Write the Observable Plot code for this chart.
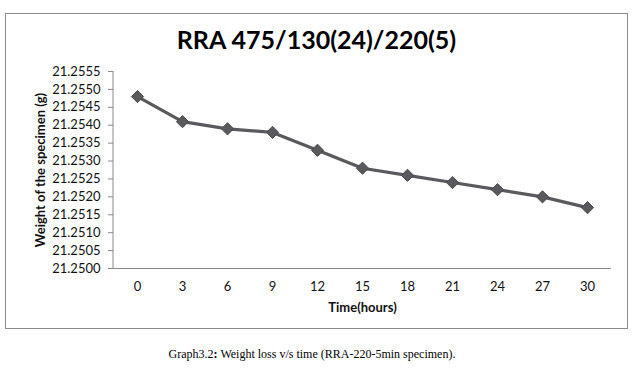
<!DOCTYPE html>
<html>
<head>
<meta charset="utf-8">
<script src="https://cdn.jsdelivr.net/npm/d3@7"></script>
<script src="https://cdn.jsdelivr.net/npm/@observablehq/plot@0.6"></script>
<style>
  html, body { margin: 0; padding: 0; background: #fff; }
  #wrap { position: relative; width: 642px; height: 375px; overflow: hidden; }
  #box { position: absolute; left: 5px; top: 13px; width: 621px; height: 314px; border: 1px solid #8a8a8a; }
  #title { position: absolute; left: 0; width: 633px; top: 24px; text-align: center; font: bold 25px Lato, "Open Sans", sans-serif; color: #000; }
  #chart { position: absolute; left: 0; top: 0; }
  #caption { position: absolute; left: 0; width: 624px; top: 347px; text-align: center; font: 12px "Liberation Serif", "DejaVu Serif", serif; color: #000; }
</style>
</head>
<body>
<div id="wrap">
  <div id="box"></div>
  <div id="title">RRA 475/130(24)/220(5)</div>
  <div id="chart"></div>
  <div id="caption">Graph3.2<b>:</b> Weight loss v/s time (RRA-220-5min specimen).</div>
</div>
<script>
const hours = [0, 3, 6, 9, 12, 15, 18, 21, 24, 27, 30];
const weights = [21.2548, 21.2541, 21.2539, 21.2538, 21.2533, 21.2528, 21.2526, 21.2524, 21.2522, 21.2520, 21.2517];
const yTicks = [21.2500, 21.2505, 21.2510, 21.2515, 21.2520, 21.2525, 21.2530, 21.2535, 21.2540, 21.2545, 21.2550, 21.2555];

const data = hours.map((h, i) => ({hour: h, weight: weights[i]}));

const chart = Plot.plot({
  width: 642,
  height: 340,
  marginLeft: 113,
  marginRight: 31,
  marginTop: 71,
  marginBottom: 72,
  style: {fontFamily: "Lato, 'Open Sans', sans-serif", fontSize: "13px", color: "#111", background: "transparent"},
  x: {type: "point", domain: hours, padding: 0.5, label: null},
  y: {domain: [21.25, 21.2555], label: null},
  marks: [
    Plot.ruleY([21.25], {stroke: "#8a8a8a"}),
    Plot.axisY({ticks: yTicks, tickFormat: d3.format(".4f"), tickSize: 5, tickPadding: 8, stroke: "#8a8a8a", fontSize: 13, label: null}),
    Plot.axisX({tickSize: 0, tickPadding: 13, fontSize: 13, label: null}),
    Plot.text(["Time(hours)"], {frameAnchor: "bottom", dy: 43, fontWeight: "bold", fontSize: 13, dx: 0}),
    Plot.text(["Weight of the specimen (g)"], {frameAnchor: "left", textAnchor: "middle", dx: -73, rotate: -90, fontWeight: "bold", fontSize: 13}),
    Plot.line(data, {x: "hour", y: "weight", stroke: "#5a5a5e", strokeWidth: 3.2}),
    Plot.dot(data, {x: "hour", y: "weight", symbol: "diamond2", r: 5.5, fill: "#5a5a5e", stroke: "#4a4a4e", strokeWidth: 1})
  ]
});

// y axis line
const svg = d3.select(chart);
svg.append("line").attr("x1", 113).attr("x2", 113).attr("y1", 71).attr("y2", 268).attr("stroke", "#8a8a8a");
document.getElementById("chart").appendChild(chart);
</script>
</body>
</html>
